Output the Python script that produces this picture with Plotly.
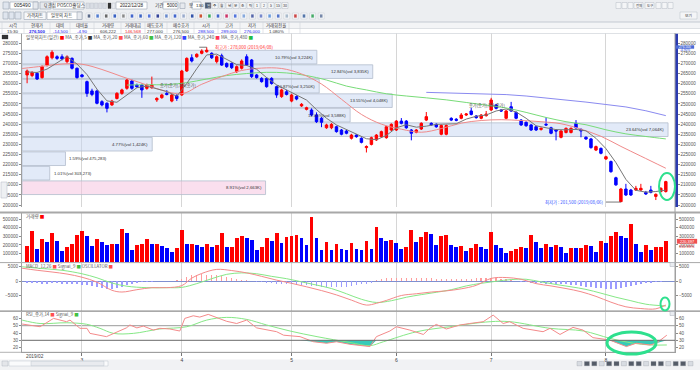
import plotly.graph_objects as go

W, H = 700, 370
LEFT_PX, RIGHT_PX = 22, 675
FIRST_PX, STEP_PX = 27.1, 4.99


def PX(px):
    return px / W


def PY(py):
    return 1 - py / H


KFONT = "Noto Sans CJK KR, Liberation Sans, sans-serif"
NFONT = "Liberation Sans, Arial, sans-serif"

# ======================= data =======================
month_labels = ["2019/02", "3", "4", "5", "6", "7", "8"]
month_start = [0, 11, 31, 53, 74, 93, 116]

open_ = [264300, 264000, 265100, 263000, 269200, 272800, 273300, 273300, 270900, 272500,
         267600, 264300, 261000, 256400, 256400, 251100, 250300, 249500, 252700, 255200,
         257700, 261300, 259300, 259300, 257700, 258000, 252000, 253100, 255200, 251400,
         254100, 254400, 266250, 272800, 273300, 275000, 275800, 275000, 270900, 273800,
         270000, 270000, 265900, 267600, 273300, 271700, 264300, 262600, 262600, 262600,
         258500, 253600, 256000, 251400, 253600, 249000, 247300, 247000, 244500, 242900,
         238200, 238200, 238700, 237100, 236600, 233000, 234600, 233000, 228400, 230000,
         232200, 233800, 233300, 237100, 237100, 241500, 241500, 237100, 236000, 237600,
         242000, 240400, 239900, 235000, 235000, 242860, 242400, 242900, 244500, 246500,
         244000, 242900, 244200, 247000, 249500, 247000, 242900, 248600, 245800, 242000,
         240900, 239600, 238700, 237400, 239900, 238200, 237100, 233500, 235900, 235900,
         240400, 237400, 233500, 232700, 227200, 228000, 222800, 221500, 213500, 201700,
         207950, 207450, 207450, 207450, 206300, 207450, 204300, 206700, 206700]
close_ = [266300, 265500, 262300, 268400, 273300, 275500, 272500, 272200, 273300, 267600,
          263000, 263500, 255200, 254700, 250300, 249500, 247800, 251400, 255200, 256900,
          261800, 257700, 258500, 256900, 259300, 259300, 252700, 254400, 254700, 254400,
          252700, 266250, 272500, 271200, 274500, 276100, 276500, 272800, 273300, 269200,
          268400, 267900, 268400, 271200, 269200, 263500, 263000, 261000, 258500, 260100,
          254400, 256900, 254700, 254400, 252400, 249800, 248100, 244500, 241200, 240900,
          239600, 239900, 236300, 235000, 235500, 234600, 233800, 231000, 228900, 233300,
          234600, 236300, 238700, 239900, 241500, 240400, 238200, 235500, 237100, 240400,
          243700, 239600, 238700, 239300, 239300, 242000, 241900, 244500, 245000, 244800,
          243200, 244500, 245000, 251900, 247800, 246500, 246500, 246500, 242900, 239600,
          239200, 237100, 237100, 237900, 239600, 235500, 236600, 236600, 237900, 237900,
          238200, 236600, 232700, 228400, 228900, 225600, 223900, 216500, 210000, 207950,
          205000, 205000, 208300, 208300, 205500, 206300, 205300, 208300, 211600]
high_ = [267000, 266200, 265800, 269000, 274000, 276500, 274000, 274500, 274000, 273000,
         268000, 264800, 261500, 257500, 257000, 251800, 250800, 252000, 255800, 257500,
         262300, 262000, 260000, 260000, 260000, 263500, 253300, 255000, 256800, 255000,
         254800, 266800, 273000, 274500, 275000, 277000, 278000, 275500, 274000, 274800,
         270500, 270500, 269000, 272000, 274500, 272200, 264800, 263200, 263000, 263200,
         259000, 257500, 257000, 255000, 254200, 250400, 248600, 247800, 245800, 243500,
         240200, 240500, 239200, 237600, 237100, 235200, 235100, 233500, 229500, 233800,
         235100, 236800, 239200, 240400, 242000, 243000, 242000, 237600, 237600, 240900,
         246000, 240900, 240400, 239800, 239800, 243400, 243000, 245500, 245500, 248000,
         244500, 245000, 246500, 253000, 250000, 247500, 247000, 251000, 246300, 242500,
         241400, 240100, 239200, 238400, 243400, 238700, 237600, 237100, 238400, 238400,
         242000, 237900, 234000, 233200, 229400, 228500, 224400, 222000, 214000, 208500,
         210500, 208000, 209500, 210500, 207000, 209500, 205800, 208800, 212000]
low_ = [260200, 263200, 261800, 262500, 268500, 272000, 271800, 271500, 270000, 267000,
        262500, 263000, 253500, 253800, 249800, 248800, 245800, 249000, 252200, 254500,
        257000, 257000, 258000, 253000, 257000, 257500, 251000, 252500, 254200, 250800,
        251500, 254000, 265800, 270500, 272800, 274500, 275300, 272200, 270000, 268800,
        267800, 267200, 265300, 267000, 268800, 262800, 262500, 260500, 258000, 259500,
        253000, 253000, 254200, 250800, 251800, 248500, 246800, 244000, 240600, 238500,
        237700, 237500, 235800, 234500, 235000, 232400, 233300, 230500, 226000, 229500,
        231700, 233300, 232800, 236600, 236600, 239900, 237700, 232000, 235500, 237100,
        241500, 239100, 238200, 234500, 234500, 241500, 241400, 242400, 244000, 244300,
        242700, 242400, 243700, 246500, 247300, 246000, 242400, 246000, 242400, 239100,
        238700, 236600, 236600, 236800, 239100, 235000, 232000, 233000, 235400, 235400,
        237700, 233500, 232200, 227900, 226700, 225100, 222300, 216000, 209500, 201500,
        204500, 204500, 207000, 207000, 205000, 205800, 202500, 206200, 206200]
volume = [191000, 365000, 150000, 265000, 235000, 345000, 245000, 130000, 180000, 210000,
          320000, 365000, 300000, 185000, 270000, 230000, 200000, 215000, 212000, 390000,
          340000, 135000, 195000, 205000, 270000, 205000, 215000, 190000, 160000, 120000,
          165000, 380000, 210000, 215000, 195000, 175000, 215000, 170000, 195000, 335000,
          170000, 172000, 280000, 305000, 285000, 260000, 145000, 180000, 285000, 240000,
          335000, 225000, 295000, 300000, 315000, 275000, 195000, 530000, 275000, 145000,
          230000, 140000, 205000, 150000, 140000, 218000, 148000, 146000, 242000, 148000,
          406000, 281000, 246000, 262000, 227000, 148000, 172000, 379000, 230000, 293000,
          355000, 332000, 203000, 309000, 320000, 195000, 180000, 191000, 133000, 168000,
          207000, 172000, 148000, 348000, 195000, 164000, 109000, 125000, 156000, 180000,
          168000, 316000, 230000, 168000, 211000, 180000, 199000, 176000, 109000, 164000,
          162000, 168000, 195000, 193000, 121000, 246000, 227000, 305000, 352000, 309000,
          277000, 445000, 215000, 121000, 199000, 145000, 176000, 178000, 242000]

ma5_idx = list(range(0, 129, 2))
ma5_val = [265800, 265500, 267200, 270400, 273400, 269700, 264500, 257300, 251500, 250800,
           254600, 258000, 258800, 257300, 256100, 253800, 260100, 267400, 274200, 274600,
           272000, 269400, 269000, 267100, 263000, 259400, 256900, 254600, 251900, 247200,
           242900, 239600, 237300, 235000, 232800, 232300, 234400, 238200, 239700, 238500,
           239000, 239900, 240100, 240200, 242500, 243900, 244500, 246500, 247500, 246000,
           242900, 239200, 238200, 237300, 237200, 237400, 236700, 233000, 227900, 221000,
           212700, 207300, 206400, 206700, 207400]
ma20_idx = [-1, 3, 7, 11, 15, 19, 23, 27, 31, 35, 39, 43, 47, 51, 55, 59, 63, 67, 71, 75,
            79, 83, 87, 91, 95, 99, 103, 107, 111, 115, 119, 123, 128]
ma20_val = [267500, 268600, 269700, 269600, 267000, 263500, 260200, 256800, 255000, 259700,
            263500, 266500, 267700, 267500, 264800, 259800, 252300, 244800, 240000, 237500,
            236000, 237800, 240500, 241800, 242200, 241800, 241200, 240200, 237500, 234000,
            229000, 224200, 218200]
ma60_idx = [20, 24, 28, 32, 36, 40, 44, 48, 52, 56, 60, 64, 68, 72, 76, 80, 84, 88, 92,
            96, 100, 104, 108, 112, 116, 120, 124, 128]
ma60_val = [259300, 259500, 259500, 260500, 262300, 264000, 265000, 265600, 265300, 264000,
            261800, 258800, 256900, 255000, 253900, 253000, 252000, 250700, 249400, 248000,
            245800, 243300, 241200, 239700, 237200, 235200, 233900, 232700]
ma120_idx = [80, 84, 88, 92, 96, 100, 104, 108, 112, 116, 120, 124, 128]
ma120_val = [255700, 255500, 255300, 255000, 254600, 253900, 253000, 252000, 250900, 249700,
             248500, 246600, 244200]

profile_edges = [276700, 269530, 262360, 255190, 248020, 240850, 233680, 226510, 219340,
                 212170, 205000]
profile_vol = [3224000, 3835000, 3250000, 4048000, 3588000, 7064000, 1424000, 475283,
               303273, 2663000]
profile_pct = [10.79, 12.84, 10.87, 13.55, 12.01, 23.64, 4.77, 1.59, 1.01, 8.91]

macd_idx = [-1, 2, 5, 8, 11, 14, 17, 19, 22, 25, 28, 31, 33, 35, 38, 41, 44, 47, 50, 53,
            56, 59, 62, 65, 68, 70, 72, 75, 78, 81, 84, 87, 90, 93, 96, 99, 102, 105, 108,
            111, 114, 117, 120, 123, 126, 128]
macd_val = [4400, 3700, 3100, 2400, 1300, -400, -3200, -3800, -3000, -2300, -2300, -1600,
            1000, 2600, 4000, 3600, 2800, 1600, 300, -800, -2000, -3300, -4800, -6600, -8300,
            -7700, -6700, -5000, -4400, -3800, -3400, -2700, -1500, 900, 1200, 600, -900,
            -1700, -2600, -3700, -5300, -7300, -8900, -9500, -9600, -8300]
sig_idx = [-1, 3, 7, 11, 14, 17, 20, 24, 28, 31, 34, 37, 40, 43, 46, 49, 52, 55, 58, 61,
           64, 67, 70, 73, 76, 79, 82, 85, 88, 91, 94, 97, 100, 103, 106, 109, 112, 115,
           118, 121, 124, 128]
sig_val = [4900, 4300, 3700, 2500, 1100, -700, -1800, -2300, -2300, -2200, -900, 800, 2300,
           2800, 2500, 1600, 800, -300, -1400, -2600, -4400, -6300, -7400, -6800, -5600,
           -4700, -3900, -3000, -1700, -800, -100, 500, 600, -300, -1200, -2000, -2900,
           -4200, -5600, -6800, -8000, -8600]
osc_val = [-600, -700, -800, -900, -900, -800, -800, -900, -1000, -1100,
           -1200, -1300, -1500, -1700, -1900, -2300, -2600, -2800, -2400, -2000,
           -1500, -1100, -800, -500, -300, -200, -100, -100, 0, 100,
           200, 700, 1500, 2000, 2200, 2300, 2200, 2100, 1900, 1700,
           1400, 1100, 800, 500, 300, 100, -200, -400, -600, -800,
           -900, -1000, -1100, -1200, -1300, -1400, -1500, -1600, -1700, -1900,
           -2000, -2100, -2200, -2100, -1900, -1600, -1400, -1200, -1000, -600,
           200, 600, 900, 1100, 1200, 1200, 1100, 1100, 1000, 1000,
           900, 900, 800, 800, 700, 700, 600, 600, 700, 800,
           900, 1000, 1100, 1200, 1000, 800, 600, 300, 0, -200,
           -400, -600, -700, -800, -900, -900, -1000, -1100, -1200, -1400,
           -1500, -1700, -1900, -2100, -2300, -2500, -2600, -2700, -2600, -2400,
           -2100, -1800, -1400, -1100, -800, -600, -400, -200, -100]

rsi_idx = [-1, 2.6, 5.3, 7.9, 8.6, 10.6, 12, 12.6, 15.9, 17.3, 19.9, 20.6, 22, 23.3, 25.3,
           26.6, 28.6, 30.6, 31.6, 33.3, 34.6, 36.3, 38, 40, 42, 44, 46, 48, 50, 51.4, 54.7,
           57.4, 60, 62, 64.7, 68.7, 70, 72.7, 74, 76.7, 79.4, 80.7, 82, 84, 86.7, 88.7,
           91.4, 93.4, 95.4, 96.7, 99.4, 103.4, 104.8, 106.8, 109.4, 111.4, 113.4, 116.7,
           120.1, 122.1, 124.8, 126.1, 128.2]
rsi_val = [52.3, 48.6, 60, 55.5, 57.7, 46.4, 46.4, 39.5, 35, 39.5, 47, 51, 47, 49.5, 44,
           46.4, 45.5, 42.7, 60, 63.6, 61.8, 65.5, 61, 56, 53, 57.7, 47, 44, 41.8, 37, 35,
           28, 26, 28, 24.5, 21.4, 35, 42.7, 48.6, 44, 38, 46.4, 51.8, 45.5, 50.9, 53,
           55.5, 64.5, 53, 55.5, 46.4, 41.8, 46.4, 38, 47.7, 44, 33.6, 30.5, 21.4, 26,
           23.6, 26, 37]
rsis_idx = [-1, 2.6, 7.9, 11.9, 14.6, 17.3, 21.3, 26.6, 32, 36, 40, 44, 48, 52.7, 58.1,
            64.7, 68.7, 71.4, 78.1, 84.7, 92.8, 96.8, 104.8, 111.5, 116.8, 121.5, 124.8,
            128.2]
rsis_val = [57.7, 53, 54, 52, 46.4, 39.5, 39.5, 45.5, 48.6, 57.7, 61.4, 58.6, 51, 42.7,
            35, 27, 22.7, 28, 41.8, 48.6, 55.5, 55.5, 46.4, 42.7, 32.7, 26, 23.6, 23.6]

header_cols = ["시각", "현재가", "대비", "대비율", "거래량", "거래대금", "매도호가", "매수호가",
               "시가", "고가", "저가", "거래회전율"]
header_vals = ["15:30", "276,500", "-14,500", "-4.90", "606,222", "146,568", "277,000",
               "276,500", "288,500", "289,000", "276,000", "1.080%"]

# ======================= figure =======================
n = len(close_)
xi = list(range(n))
x_range = [(LEFT_PX - FIRST_PX) / STEP_PX, (RIGHT_PX - FIRST_PX) / STEP_PX]
PRICE_TOP, PRICE_BOT = 33, 207
price_range = [275000 - (PRICE_BOT - 53.3) / 0.002024, 275000 + (53.3 - PRICE_TOP) / 0.002024]
vol_range = [0, 584800]
macd_range = [-10345, 6207]
rsi_range = [13.97, 68.77]
prof_range = [0, 7.14e6]

fig = go.Figure()

# volume profile (base subplot x / y)
centers = [(profile_edges[k] + profile_edges[k + 1]) / 2 for k in range(10)]
heights = [(profile_edges[k] - profile_edges[k + 1]) * 0.94 for k in range(10)]
last_close = close_[-1]
pcol = ["rgba(246,196,224,0.55)" if profile_edges[k + 1] <= last_close < profile_edges[k]
        else "rgba(198,214,242,0.5)" for k in range(10)]
fig.add_trace(go.Bar(x=profile_vol, y=centers, width=heights, orientation="h", base=0,
                     marker=dict(color=pcol, line=dict(color="#b3bccd", width=0.8)),
                     xaxis="x", yaxis="y", hoverinfo="skip", showlegend=False))

# moving averages and candles on overlay time axis x5
fig.add_trace(go.Scatter(x=ma120_idx, y=ma120_val, mode="lines", line=dict(color="#8a8af0", width=1),
                         xaxis="x5", yaxis="y", hoverinfo="skip", showlegend=False))
fig.add_trace(go.Scatter(x=ma60_idx, y=ma60_val, mode="lines", line=dict(color="#78dc78", width=1, shape="spline"),
                         xaxis="x5", yaxis="y", hoverinfo="skip", showlegend=False))
fig.add_trace(go.Scatter(x=ma20_idx, y=ma20_val, mode="lines", line=dict(color="#f08a8a", width=1, shape="spline"),
                         xaxis="x5", yaxis="y", hoverinfo="skip", showlegend=False))
fig.add_trace(go.Scatter(x=ma5_idx, y=ma5_val, mode="lines", line=dict(color="#777777", width=1),
                         xaxis="x5", yaxis="y", hoverinfo="skip", showlegend=False))
fig.add_trace(go.Candlestick(x=xi, open=open_, high=high_, low=low_, close=close_,
                             xaxis="x5", yaxis="y", whiskerwidth=0,
                             increasing=dict(line=dict(color="#ff0000", width=1), fillcolor="#ff0000"),
                             decreasing=dict(line=dict(color="#0000ff", width=1), fillcolor="#0000ff"),
                             hoverinfo="skip", showlegend=False))

# volume
vcol = ["#ff0000" if k == 0 or volume[k] > volume[k - 1] else "#0000ff" for k in range(n)]
fig.add_trace(go.Bar(x=xi, y=volume, width=0.76, marker=dict(color=vcol, line=dict(width=0)),
                     xaxis="x2", yaxis="y2", hoverinfo="skip", showlegend=False))

# MACD
ocol = ["#ff9c9c" if v > 0 else "#9c9cff" for v in osc_val]
fig.add_trace(go.Bar(x=xi, y=osc_val, width=0.28, marker=dict(color=ocol, line=dict(width=0)),
                     xaxis="x3", yaxis="y3", hoverinfo="skip", showlegend=False))
fig.add_trace(go.Scatter(x=sig_idx, y=sig_val, mode="lines", line=dict(color="#86e886", width=1, shape="spline"),
                         xaxis="x3", yaxis="y3", hoverinfo="skip", showlegend=False))
fig.add_trace(go.Scatter(x=macd_idx, y=macd_val, mode="lines", line=dict(color="#f48a8a", width=1, shape="spline"),
                         xaxis="x3", yaxis="y3", hoverinfo="skip", showlegend=False))

# RSI
fig.add_trace(go.Scatter(x=rsi_idx, y=[min(v, 30) for v in rsi_val], mode="lines", line=dict(width=0),
                         xaxis="x4", yaxis="y4", hoverinfo="skip", showlegend=False))
fig.add_trace(go.Scatter(x=rsi_idx, y=[30] * len(rsi_idx), mode="lines", line=dict(width=0),
                         fill="tonexty", fillcolor="rgba(32,196,176,0.9)",
                         xaxis="x4", yaxis="y4", hoverinfo="skip", showlegend=False))
fig.add_trace(go.Scatter(x=rsis_idx, y=rsis_val, mode="lines", line=dict(color="#86e886", width=1, shape="spline"),
                         xaxis="x4", yaxis="y4", hoverinfo="skip", showlegend=False))
fig.add_trace(go.Scatter(x=rsi_idx, y=rsi_val, mode="lines", line=dict(color="#f48a8a", width=1),
                         xaxis="x4", yaxis="y4", hoverinfo="skip", showlegend=False))

# invisible anchors for right-hand axes
for xa, ya, yv in [("x", "y5", 240000), ("x2", "y6", 1), ("x3", "y7", 0), ("x4", "y8", 40)]:
    fig.add_trace(go.Scatter(x=[prof_range[0] if xa == "x" else 0], y=[yv], mode="markers",
                             marker=dict(opacity=0), xaxis=xa, yaxis=ya,
                             hoverinfo="skip", showlegend=False))

dom_x = [PX(LEFT_PX), PX(RIGHT_PX)]
tickfont = dict(family=NFONT, size=4.6, color="#555555")
grid = dict(showgrid=True, gridcolor="#d6d6d6", gridwidth=1, zeroline=False, automargin=False,
            tickvals=month_start[1:], showticklabels=False, ticks="")


def yax(domain, rng, vals, side="left", **kw):
    d = dict(domain=domain, range=rng, tickvals=vals, tickformat="d", tickfont=tickfont,
             ticks="outside", ticklen=2, tickcolor="#8c8c8c", showgrid=False, zeroline=False,
             showline=True, linecolor="#a0a0a0", linewidth=1, side=side, fixedrange=True,
             automargin=False)
    d.update(kw)
    return d


price_ticks = list(range(200000, 280001, 5000))
vol_ticks = [100000, 200000, 300000, 400000, 500000]
macd_ticks = [-5000, 0, 5000]
rsi_ticks = [20, 30, 40, 50, 60]

fig.update_layout(
    template="none",
    width=W, height=H, margin=dict(l=0, r=0, t=0, b=0, pad=0, autoexpand=False),
    paper_bgcolor="white", plot_bgcolor="white", showlegend=False,
    font=dict(family=KFONT, size=5, color="#333333"),
    bargap=0,
    xaxis=dict(domain=dom_x, range=prof_range, visible=False, anchor="y", fixedrange=True,
               automargin=False, rangeslider=dict(visible=False)),
    xaxis5=dict(overlaying="x", range=x_range, anchor="y", rangeslider=dict(visible=False),
                fixedrange=True, **grid),
    xaxis2=dict(domain=dom_x, range=x_range, anchor="y2", fixedrange=True, **grid),
    xaxis3=dict(domain=dom_x, range=x_range, anchor="y3", fixedrange=True, **grid),
    xaxis4=dict(domain=dom_x, range=x_range, anchor="y4", fixedrange=True, showgrid=True,
                automargin=False,
                gridcolor="#d6d6d6", zeroline=False, tickvals=month_start[1:],
                ticktext=month_labels[1:], tickfont=dict(family=NFONT, size=5, color="#444"),
                ticks="outside", ticklen=3, tickcolor="#777", showline=True, linecolor="#a0a0a0"),
    yaxis=yax([PY(PRICE_BOT), PY(PRICE_TOP)], price_range, price_ticks, anchor="x"),
    yaxis5=yax(None, price_range, price_ticks, side="right", overlaying="y", anchor="x",
               linecolor="#2b3bb0", linewidth=2.5),
    yaxis2=yax([PY(262), PY(212)], vol_range, vol_ticks, anchor="x2"),
    yaxis6=yax(None, vol_range, vol_ticks, side="right", overlaying="y2", anchor="x2"),
    yaxis3=yax([PY(311), PY(263)], macd_range, macd_ticks, anchor="x3",
               zeroline=True, zerolinecolor="#7f8fd0", zerolinewidth=1),
    yaxis7=yax(None, macd_range, macd_ticks, side="right", overlaying="y3", anchor="x3"),
    yaxis4=yax([PY(352), PY(312)], rsi_range, rsi_ticks, anchor="x4"),
    yaxis8=yax(None, rsi_range, rsi_ticks, side="right", overlaying="y4", anchor="x4"),
)
for k in ["yaxis5", "yaxis6", "yaxis7", "yaxis8"]:
    fig.layout[k].domain = None

shapes = []
ann = []


def rect(x0, y0, x1, y1, fill=None, line="#9aa4b4", lw=0.6, layer="above"):
    shapes.append(dict(type="rect", xref="paper", yref="paper", x0=PX(x0), x1=PX(x1),
                       y0=PY(y1), y1=PY(y0), fillcolor=fill, layer=layer,
                       line=dict(color=line, width=lw)))


def hline(x0, x1, y, color, w=1, layer="above"):
    shapes.append(dict(type="line", xref="paper", yref="paper", x0=PX(x0), x1=PX(x1),
                       y0=PY(y), y1=PY(y), line=dict(color=color, width=w), layer=layer))


def vline(x, y0, y1, color, w=1, layer="above"):
    shapes.append(dict(type="line", xref="paper", yref="paper", x0=PX(x), x1=PX(x),
                       y0=PY(y0), y1=PY(y1), line=dict(color=color, width=w), layer=layer))


def text(x, y, s, size=5, color="#333", anchor="left", family=KFONT, **kw):
    ann.append(dict(xref="paper", yref="paper", x=PX(x), y=PY(y), text=s, showarrow=False,
                    xanchor=anchor, yanchor="middle", font=dict(size=size, color=color, family=family), **kw))


# ---------- header ----------
rect(0, 0, 700, 22, fill="#eceef1", line="#eceef1", lw=0, layer="below")
hline(0, 700, 22, "#c4c9d1", 1)
rect(0, 22, 700, 28.5, fill="#f3f4f6", line="#f3f4f6", lw=0, layer="below")
hline(0, 700, 28.5, "#d6d9de", 0.8)
hline(0, 700, 33.5, "#d6d9de", 0.8)
# row 1 controls
rect(3, 2, 9, 9, fill="#dfe5ee")
rect(10, 2, 38, 9, fill="white")
text(12, 5.5, "005490", 5, "#222", family=NFONT)
rect(33, 2, 38, 9, fill="#e6e9ee")
rect(40, 2, 51, 9, fill="#e6e9ee")
text(42, 5.5, "Q 관심", 4.2, "#333")
rect(53, 2, 84, 9, fill="white")
text(55, 5.5, "POSCO홀딩스", 4.6, "#222")
for k in range(5):
    rect(86 + k * 4.2, 3, 89.5 + k * 4.2, 8.5, fill="#d9dde4", line="#b8bec8", lw=0.4)
rect(108, 3, 111, 8.5, fill="#333", line="#333", lw=0.3)
rect(112, 3, 115, 8.5, fill="#e9ecf0", line="#b8bec8", lw=0.4)
rect(116, 2, 147, 9, fill="white")
text(118, 5.5, "2022/12/28", 4.6, "#222", family=NFONT)
text(153, 5.5, "기간", 4.6, "#333")
rect(163, 2, 178, 9, fill="white")
text(165, 5.5, "5000", 4.6, "#222", family=NFONT)
rect(180, 3, 185, 8.5, fill="#e6e9ee")
text(187, 5.5, "봉", 4.6, "#333")
rect(192, 2, 201, 9, fill="white")
text(193.5, 5.5, "130", 4.4, "#222", family=NFONT)
for k, s in enumerate(["일", "주", "월", "년", "분", "초", "틱", "1", "2", "5", "15", "30"]):
    rect(205 + k * 7, 2.5, 211 + k * 7, 8.5, fill="#f4f5f7" if k else "#4d5a70", line="#aab1bc", lw=0.4)
    text(208 + k * 7, 5.5, s, 3.6, "white" if k == 0 else "#333", anchor="center")
for k, s in enumerate(["", "", "", "전체", "도구", "", "", ""]):
    wdt = 9 if s else 5
    x0 = [616, 622, 628, 634, 645, 656, 662, 668][k]
    rect(x0, 2.5, x0 + wdt, 8.5, fill="#f4f5f7", line="#aab1bc", lw=0.4)
    if s:
        text(x0 + wdt / 2, 5.5, s, 3.4, "#333", anchor="center")
rect(680, 12, 697, 19, fill="#f4f5f7", line="#aab1bc", lw=0.4)
text(688.5, 15.5, "보기", 3.8, "#333", anchor="center")
# row 2 controls
rect(3, 12, 8, 19, fill="#dfe5ee")
rect(9, 12, 14, 19, fill="#dfe5ee")
rect(15, 12, 21, 19, fill="#dfe5ee")
rect(24, 12, 46, 19.5, fill="#f7f8fa")
text(35, 15.8, "가격차트", 4.4, "#333", anchor="center")
rect(47, 12, 82, 19.5, fill="white")
text(49, 15.8, "일봉의 차트", 4.4, "#333")
rect(77, 12, 82, 19.5, fill="#e6e9ee")
icon_cols = ["#5a6a88", "#4f7bd0", "#6a6a6a", "#3a62c4", "#8a8a8a", "#4466cc", "#3a62c4", "#5577dd",
             "#334499", "#6688cc", "#4466cc", "#99aacc", "#3355aa", "#cc5533", "#33aa55", "#4466cc",
             "#cc3366", "#5577dd", "#88aadd", "#5566aa", "#7788cc", "#6699dd", "#5577cc", "#aabbcc",
             "#cc4444", "#5577aa", "#44aa66", "#7788aa"]
for k, c in enumerate(icon_cols):
    rect(86 + k * 8.6, 13, 92 + k * 8.6, 19, fill="#f6f7f9", line="#c3c8d0", lw=0.4)
    rect(87.8 + k * 8.6, 14.5, 90.2 + k * 8.6, 17.5, fill=c, line=c, lw=0.2)
# table
hx = [13, 37, 60, 82, 108, 133, 155, 181, 206, 229, 252, 276]
for k, (c, v) in enumerate(zip(header_cols, header_vals)):
    text(hx[k], 25.4, c, 4.4, "#333", anchor="center")
    vc = "#2222ee" if k in (1, 2, 3, 8, 9, 10) else ("#ee2222" if k == 5 else "#333")
    vs = "<b>%s</b>" % v if k == 1 else v
    text(hx[k], 31, vs, 4.4, vc, anchor="center", family=NFONT)
for xv in [2, 24, 50, 70, 94, 121, 145, 167, 194, 218, 240, 263, 289, 300]:
    vline(xv, 22, 33.5, "#d0d4da", 0.6)
# legend row of price panel
rect(2, 35, 8, 39, fill="#333", line="#333", lw=0.3)
text(24, 37.6,
     "일봉의차트(일간) <span style='color:#ff0000'>■</span> MA_종가,5 <span style='color:#333333'>■</span>"
     " MA_종가,20 <span style='color:#ff5050'>■</span> MA_종가,60 <span style='color:#40c040'>■</span>"
     " MA_종가,120 <span style='color:#3344ff'>■</span> MA_종가,240 <span style='color:#ff3355'>■</span>"
     " MA_종가,480 <span style='color:#22bb44'>■</span>", 4.6, "#555")

# ---------- panel separators ----------
hline(0, 700, 212.5, "#a8a8a8", 2)
hline(0, 700, 262.6, "#a8a8a8", 1)
hline(0, 700, 311.2, "#8c8c8c", 1.2)
hline(0, 675, 352.3, "#a0a0a0", 0.8)
vline(RIGHT_PX, 33, 352, "#a0a0a0", 1)
rect(1, 182, 7, 198, fill="#eef0f3", line="#b0b6c0", lw=0.5)

# panel titles
text(24, 216.5, "거래량 <span style='color:#ff0000'>■</span>", 4.6, "#555")
text(24, 266, "MACD_12,26 <span style='color:#ff5050'>■</span> Signal_9 <span style='color:#40c040'>■</span>"
     " OSCILLATOR <span style='color:#ff5050'>■</span>", 4.4, "#555")
text(24, 314.5, "RSI_종가,14 <span style='color:#ff5050'>■</span> Signal_9 <span style='color:#40c040'>■</span>",
     4.4, "#555")
for yy in [264.5, 313.5]:
    rect(670, yy - 2, 674.5, yy + 2, fill="#e9ecf0", line="#9aa0aa", lw=0.4)

# RSI reference lines
shapes.append(dict(type="line", xref="x4", yref="y4", x0=x_range[0], x1=x_range[1], y0=50, y1=50,
                   line=dict(color="#9a9a9a", width=1), layer="below"))
shapes.append(dict(type="line", xref="x4", yref="y4", x0=x_range[0], x1=x_range[1], y0=30, y1=30,
                   line=dict(color="#6a6a6a", width=1), layer="above"))

# x label for first month
ann.append(dict(xref="x4", yref="paper", x=month_start[0] - 0.6, y=PY(356.5), text=month_labels[0],
                showarrow=False, xanchor="left", yanchor="middle",
                font=dict(family=NFONT, size=4.8, color="#444")))

# volume profile labels
for k in range(10):
    lab = ("%.2f%%(vol %s)" % (profile_pct[k], "{:,}K".format(round(profile_vol[k] / 1000))
                               if profile_vol[k] >= 1000000 else "{:,}".format(profile_vol[k])))
    inside = profile_vol[k] > 500000
    ann.append(dict(xref="x", yref="y", x=profile_vol[k], y=centers[k], text=lab, showarrow=False,
                    xanchor="right" if inside else "left", xshift=-2 if inside else 2,
                    yanchor="middle", font=dict(family=NFONT, size=4.3, color="#333")))

# high / low marks
i_hi = high_.index(max(high_))
i_lo = low_.index(min(low_))
ann.append(dict(xref="x5", yref="y", x=i_hi, y=high_[i_hi], text="", showarrow=True, arrowhead=0,
                arrowwidth=0.8, arrowcolor="#555", ax=-9, ay=0))
ann.append(dict(xref="x5", yref="y", x=i_hi, y=high_[i_hi], xshift=6, xanchor="left", yanchor="middle",
                showarrow=False, text="최고가 : {:,} (2019/04/08)".format(high_[i_hi]),
                font=dict(family=KFONT, size=4.4, color="#ff3030")))
ann.append(dict(xref="x5", yref="y", x=i_lo, y=low_[i_lo], text="최저가 : {:,} (2019/08/06)".format(low_[i_lo]),
                showarrow=True, arrowhead=0, arrowwidth=0.8, arrowcolor="#555", ax=-15, ay=0,
                xanchor="right", yanchor="middle", font=dict(family=KFONT, size=4.4, color="#3355ff")))
for xx, yy in [(26.2, 259300), (88.2, 249450)]:
    ann.append(dict(xref="x5", yref="y", x=xx, y=yy, text="종가(종가),MA(종가)", showarrow=False,
                    xanchor="left", yanchor="middle", font=dict(family=KFONT, size=4.2, color="#555")))

# right-side value boxes
rect(676, 45.4, 694, 48.6, fill="#4b6ad6", line="#4b6ad6", lw=0.3)
text(685, 47, "276,500", 3.3, "white", anchor="center", family=NFONT)
text(685, 50.2, "-4.90%", 3.2, "#2244dd", anchor="center", family=NFONT)
rect(677, 239, 697, 243.5, fill="#f05050", line="#f05050", lw=0.3)
text(687, 241.2, "220,397", 3.9, "white", anchor="center", family=NFONT)
text(687, 246.2, "155.98%", 3.9, "#e03030", anchor="center", family=NFONT)

# hand-drawn green marks
for (x0, y0, x1, y1, w) in [(659, 173, 675, 200, 2), (660.5, 297.5, 669.5, 310.5, 2),
                            (607, 332, 656, 354, 3)]:
    shapes.append(dict(type="circle", xref="paper", yref="paper", x0=PX(x0), x1=PX(x1),
                       y0=PY(y1), y1=PY(y0), line=dict(color="#2ee08e", width=w), layer="above"))

# bottom scrollbar
rect(0, 359.5, 700, 370, fill="#f1f2f4", line="#f1f2f4", lw=0, layer="below")
rect(2, 361, 8, 366, fill="#e4e6ea", line="#a8aeb8", lw=0.4)
rect(9, 361, 108, 366, fill="#fafbfc", line="#b4bac4", lw=0.4)
rect(31, 361.3, 104, 365.7, fill="#e9ebef", line="#b4bac4", lw=0.4)
for k in range(16):
    xx = 577 + k * 7.4
    rect(xx, 361.5, xx + 5, 365.8, fill="#555c68" if k % 3 else "#d8dce2", line="#8a909a", lw=0.3)

fig.update_layout(shapes=shapes, annotations=ann)
fig.write_html("out.html", config={"displayModeBar": False, "staticPlot": True},
               post_script="document.body.style.margin='0px';document.body.style.padding='0px';"
                           "document.body.style.overflow='hidden';")
